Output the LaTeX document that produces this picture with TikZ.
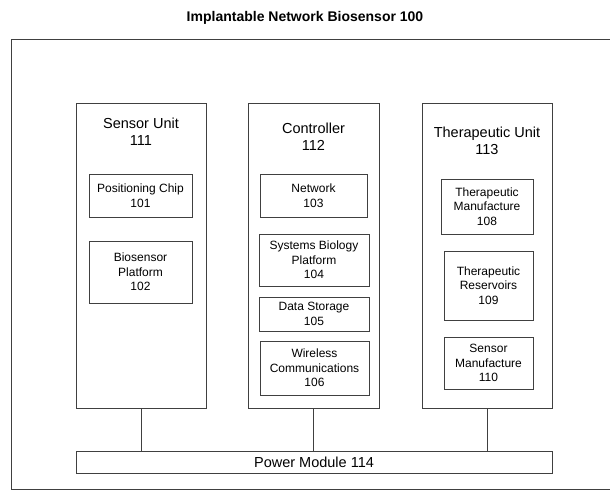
\documentclass[tikz,border=0pt]{standalone}
\usepackage{fontspec}
\setmainfont{Liberation Sans}
\begin{document}
\begin{tikzpicture}[x=1pt,y=-1pt,
  frame/.style={draw=black!75,line width=0.8pt},
  unitbox/.style={frame,minimum width=130pt,minimum height=305pt,inner sep=0pt},
  part/.style={frame,align=center,inner sep=0pt,font=\fontsize{12}{14.5}\selectfont},
  unittitle/.style={align=center,font=\fontsize{14.5}{17}\selectfont},
  link/.style={draw=black!75,line width=0.8pt}]
\path[use as bounding box] (0,0) rectangle (610,491);
\node[font=\bfseries\fontsize{14}{16}\selectfont] (title) at (305,18) {Implantable Network Biosensor 100};
\draw[frame] (615,39) -- (11,39) -- (11,489) -- (615,489);
% units
\node[unitbox] (su) at (141,255.5) {};
\node[unitbox,minimum width=131pt] (ct) at (313.5,255.5) {};
\node[unitbox] (tu) at (487,255.5) {};
\node[unittitle] (sut) at (141,132) {Sensor Unit\\111};
\node[unittitle] (ctt) at (313.5,137) {Controller\\112};
\node[unittitle] (tut) at (487,140.5) {Therapeutic Unit\\113};
% sensor parts
\node[part,minimum width=103pt,minimum height=43pt] (p101) at (140.5,195.5) {Positioning Chip\\101};
\node[part,minimum width=103pt,minimum height=62pt] (p102) at (140.5,272) {Biosensor\\Platform\\102};
% controller parts
\node[part,minimum width=107pt,minimum height=43pt] (p103) at (313.5,195.5) {Network\\103};
\node[part,minimum width=110pt,minimum height=52pt] (p104) at (314,260) {Systems Biology\\Platform\\104};
\node[part,minimum width=110pt,minimum height=34pt] (p105) at (314,314) {Data Storage\\105};
\node[part,minimum width=109pt,minimum height=54pt] (p106) at (314.5,368) {Wireless\\Communications\\106};
% therapeutic parts
\node[part,minimum width=92pt,minimum height=55pt] (p108) at (487,206.5) {Therapeutic\\Manufacture\\108};
\node[part,minimum width=89pt,minimum height=69pt] (p109) at (488.5,285.5) {Therapeutic\\Reservoirs\\109};
\node[part,minimum width=89pt,minimum height=52pt] (p110) at (488.5,363) {Sensor\\Manufacture\\110};
% power module
\node[frame,minimum width=476pt,minimum height=22pt,inner sep=0pt,font=\fontsize{14.5}{17}\selectfont] (pm) at (314,462) {Power Module 114};
\draw[link] (su.south) -- (su.south |- pm.north);
\draw[link] (ct.south) -- (ct.south |- pm.north);
\draw[link] (tu.south) -- (tu.south |- pm.north);
\end{tikzpicture}
\end{document}
